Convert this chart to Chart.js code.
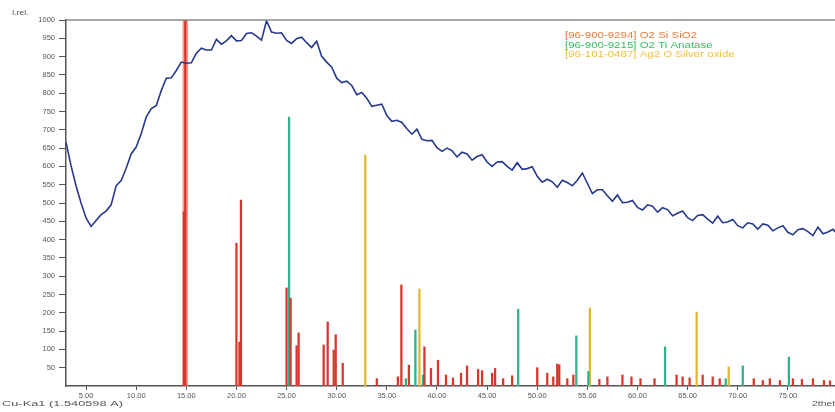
<!DOCTYPE html>
<html>
<head>
<meta charset="utf-8">
<script src="https://cdn.jsdelivr.net/npm/chart.js@4.4.1/dist/chart.umd.min.js"></script>
<style>
  html, body { margin: 0; padding: 0; background: #fff; }
  #chart-container { width: 835px; height: 412px; position: relative; }
</style>
</head>
<body>
<div id="chart-container"><canvas id="xrd"></canvas></div>
<script>
// measured scan (2theta in degrees, relative intensity)
const scanAngles = [
  3.0, 3.5, 4.0, 4.5, 5.0, 5.5, 6.0, 6.5, 7.0, 7.5, 8.0, 8.5, 9.0, 9.5, 10.0, 10.5,
  11.0, 11.5, 12.0, 12.5, 13.0, 13.5, 14.0, 14.5, 15.0, 15.5, 16.0, 16.5, 17.0, 17.5,
  18.0, 18.5, 19.0, 19.5, 20.0, 20.5, 21.0, 21.5, 22.0, 22.5, 23.0, 23.5, 24.0, 24.5,
  25.0, 25.5, 26.0, 26.5, 27.0, 27.5, 28.0, 28.5, 29.0, 29.5, 30.0, 30.5, 31.0, 31.5,
  32.0, 32.5, 33.0, 33.5, 34.0, 34.5, 35.0, 35.5, 36.0, 36.5, 37.0, 37.5, 38.0, 38.5,
  39.0, 39.5, 40.0, 40.5, 41.0, 41.5, 42.0, 42.5, 43.0, 43.5, 44.0, 44.5, 45.0, 45.5,
  46.0, 46.5, 47.0, 47.5, 48.0, 48.5, 49.0, 49.5, 50.0, 50.5, 51.0, 51.5, 52.0, 52.5,
  53.0, 53.5, 54.0, 54.5, 55.0, 55.5, 56.0, 56.5, 57.0, 57.5, 58.0, 58.5, 59.0, 59.5,
  60.0, 60.5, 61.0, 61.5, 62.0, 62.5, 63.0, 63.5, 64.0, 64.5, 65.0, 65.5, 66.0, 66.5,
  67.0, 67.5, 68.0, 68.5, 69.0, 69.5, 70.0, 70.5, 71.0, 71.5, 72.0, 72.5, 73.0, 73.5,
  74.0, 74.5, 75.0, 75.5, 76.0, 76.5, 77.0, 77.5, 78.0, 78.5, 79.0, 79.5, 80.0
];
const scanCounts = [
  666, 602, 547, 500, 459, 436, 452, 468, 478, 495, 547, 561, 595, 634, 653, 689,
  735, 758, 766, 807, 841, 842, 862, 885, 882, 883, 909, 923, 918, 918,
  947, 934, 943, 957, 943, 944, 963, 965, 956, 945, 998, 967, 964, 965,
  944, 936, 949, 953, 938, 925, 942, 901, 885, 871, 841, 829, 833, 821,
  796, 802, 786, 764, 767, 770, 739, 723, 726, 720, 703, 688, 702, 674,
  670, 671, 651, 641, 650, 643, 626, 639, 634, 617, 627, 632, 612, 600,
  612, 613, 600, 590, 610, 592, 594, 599, 573, 557, 565, 558, 543, 562,
  556, 547, 562, 582, 554, 526, 536, 536, 520, 505, 522, 501, 502, 507,
  488, 481, 495, 491, 475, 487, 482, 465, 472, 478, 460, 452, 466, 468,
  456, 445, 464, 446, 448, 455, 438, 432, 446, 443, 429, 443, 439, 424,
  432, 438, 420, 413, 427, 430, 422, 411, 434, 416, 421, 428, 413
];

// reference patterns (stick positions and heights)
const siO2Angles = [14.75, 14.9, 20.0, 20.3, 20.45, 25.0, 25.4, 26.0, 26.2, 28.7, 29.1, 29.7, 29.9,
  30.6, 34.0, 36.1, 36.45, 37.2, 38.75, 39.4, 40.1, 40.9, 41.6, 42.4, 43.0, 44.1, 44.5, 45.5,
  45.8, 46.6, 47.5, 50.0, 51.0, 51.6, 52.0, 52.2, 53.0, 53.6, 56.2, 57.0, 58.5, 59.4, 60.3,
  61.7, 63.9, 64.5, 65.2, 66.5, 67.5, 68.2, 71.6, 72.5, 73.2, 74.2, 75.5, 76.4, 77.5, 78.6, 79.2];
const siO2Heights = [476, 1100, 390, 120, 508, 268, 240, 110, 145, 112, 175, 98, 140,
  62, 20, 25, 276, 57, 107, 48, 70, 30, 22, 35, 55, 45, 42, 35,
  48, 20, 28, 50, 35, 25, 60, 58, 20, 30, 18, 25, 30, 25, 20,
  20, 30, 25, 22, 30, 25, 20, 20, 15, 20, 15, 20, 18, 20, 15, 14];
const anataseAngles = [25.25, 36.9, 37.85, 38.6, 48.1, 53.9, 55.1, 62.75, 68.8, 70.5, 75.1];
const anataseHeights = [735, 20, 153, 30, 210, 137, 40, 107, 20, 55, 79];
const ag2OAngles = [32.85, 38.25, 55.25, 65.9, 69.1];
const ag2OHeights = [631, 265, 213, 202, 52];

const phaseLabels = ['[96-900-9294] O2 Si SiO2', '[96-900-9215] O2 Ti Anatase', '[96-101-0487] Ag2 O Silver oxide'];
const phaseColors = ['#d8352b', '#2fb08e', '#e0b830'];
const phaseTextColors = ['#f07a3a', '#32c060', '#f0c040'];

const xTicks = [5, 10, 15, 20, 25, 30, 35, 40, 45, 50, 55, 60, 65, 70, 75];
const yTicks = [50, 100, 150, 200, 250, 300, 350, 400, 450, 500, 550, 600, 650, 700, 750, 800, 850, 900, 950, 1000];

const toPoints = (xs, ys) => xs.map((x, i) => ({ x: x, y: ys[i] }));

const stickSet = (i, xs, ys) => ({
  type: 'bar',
  label: phaseLabels[i],
  data: toPoints(xs, ys),
  backgroundColor: phaseColors[i],
  barThickness: 1.6,
  grouped: false,
  order: 2
});

// the off-scale SiO2 reflection is drawn as a wider, paler stick behind the core
const siO2Off = toPoints(siO2Angles, siO2Heights).filter(p => p.y > 1000);

// stretched text helper, the original captions are drawn wide
function wideText(ctx, text, x, y, sx) {
  ctx.save();
  ctx.translate(x, y);
  ctx.scale(sx, 1);
  ctx.fillText(text, 0, 0);
  ctx.restore();
}

const frameLines = {
  id: 'frameLines',
  afterDraw(chart) {
    const { ctx, chartArea: a } = chart;
    ctx.save();
    ctx.strokeStyle = '#8a8a8a';
    ctx.lineWidth = 1.5;
    ctx.beginPath();
    ctx.moveTo(a.left, a.top);
    ctx.lineTo(a.right, a.top);
    ctx.stroke();

    ctx.textBaseline = 'middle';
    ctx.fillStyle = '#555';
    ctx.font = '7px "Liberation Sans"';
    wideText(ctx, 'I.rel.', 12, 13, 1.2);
    ctx.font = '8px "Liberation Sans"';
    wideText(ctx, 'Cu-Ka1 (1.540598 A)', 2, 404, 1.6);
    wideText(ctx, '2theta', 812, 404, 1.3);

    ctx.font = '8.5px "Liberation Sans"';
    phaseLabels.forEach((t, i) => {
      ctx.fillStyle = phaseTextColors[i];
      wideText(ctx, t, 565, 36 + i * 9.4, 1.35);
    });
    ctx.restore();
  }
};

new Chart(document.getElementById('xrd'), {
  type: 'bar',
  data: {
    datasets: [
      {
        type: 'line',
        label: 'scan',
        data: toPoints(scanAngles, scanCounts),
        borderColor: '#27388f',
        borderWidth: 1.6,
        pointRadius: 0,
        tension: 0,
        order: 1
      },
      stickSet(0, siO2Angles, siO2Heights),
      stickSet(1, anataseAngles, anataseHeights),
      stickSet(2, ag2OAngles, ag2OHeights),
      {
        type: 'bar',
        label: 'SiO2 off-scale',
        data: siO2Off,
        backgroundColor: 'rgba(228,120,108,0.7)',
        barThickness: 5,
        grouped: false,
        order: 3
      }
    ]
  },
  options: {
    responsive: true,
    maintainAspectRatio: false,
    animation: false,
    layout: { padding: { top: 20, right: 0, left: 0, bottom: 0 } },
    plugins: {
      legend: { display: false },
      tooltip: { enabled: false }
    },
    scales: {
      x: {
        type: 'linear',
        min: 3,
        max: 79.7,
        offset: false,
        afterBuildTicks: s => { s.ticks = xTicks.map(v => ({ value: v })); },
        afterFit: s => { s.height = 26; },
        ticks: {
          callback: v => v.toFixed(2),
          color: '#555',
          font: { family: 'Liberation Sans', size: 7.5 },
          padding: 1,
          maxRotation: 0,
          autoSkip: false
        },
        grid: { drawOnChartArea: false, tickLength: 4, color: '#555', offset: false },
        border: { color: '#555', width: 1.5 }
      },
      y: {
        min: 0,
        max: 1000,
        afterBuildTicks: s => { s.ticks = yTicks.map(v => ({ value: v })); },
        afterFit: s => { s.width = 66; },
        ticks: {
          callback: v => String(v),
          color: '#555',
          font: { family: 'Liberation Sans', size: 7.5 },
          padding: 4,
          autoSkip: false
        },
        grid: { drawOnChartArea: false, tickLength: 7, color: '#555' },
        border: { color: '#555', width: 1.5 }
      }
    }
  },
  plugins: [frameLines]
});
</script>
</body>
</html>
